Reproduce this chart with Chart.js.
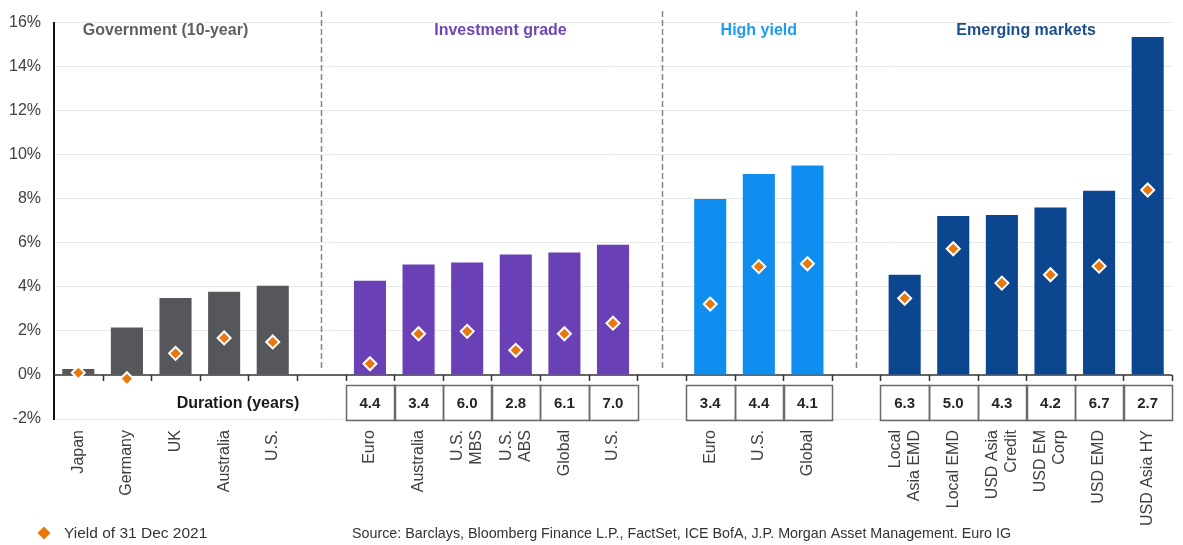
<!DOCTYPE html>
<html>
<head>
<meta charset="utf-8">
<script src="https://cdn.jsdelivr.net/npm/chart.js@4.4.1/dist/chart.umd.min.js"></script>
<style>
  html, body { margin: 0; padding: 0; background: #fff; }
</style>
</head>
<body>
<canvas id="myChart" width="1183" height="545"></canvas>
<script>
const FONT = "'Liberation Sans', Arial, sans-serif";

// sectors, left to right
const groupNames = ['Government (10-year)', 'Investment grade', 'High yield', 'Emerging markets'];

const govLabels = ['Japan', 'Germany', 'UK', 'Australia', 'U.S.'];
const igLabels = ['Euro', 'Australia', ['U.S.', 'MBS'], ['U.S.', 'ABS'], 'Global', 'U.S.'];
const hyLabels = ['Euro', 'U.S.', 'Global'];
const emLabels = [['Local', 'Asia EMD'], 'Local EMD', ['USD Asia', 'Credit'], ['USD EM', 'Corp'], 'USD EMD', 'USD Asia HY'];

// current yield (bars), %
const govYield = [0.27, 2.15, 3.5, 3.78, 4.05];
const igYield = [4.28, 5.02, 5.11, 5.47, 5.56, 5.91];
const hyYield = [7.99, 9.12, 9.51];
const emYield = [4.55, 7.22, 7.26, 7.6, 8.37, 15.35];

// yield of 31 Dec 2021 (diamonds), %
const govYield2021 = [0.1, -0.17, 0.98, 1.68, 1.5];
const igYield2021 = [0.51, 1.87, 1.98, 1.12, 1.87, 2.35];
const hyYield2021 = [3.22, 4.92, 5.05];
const emYield2021 = [3.48, 5.73, 4.17, 4.55, 4.94, 8.4];

// duration (years)
const igDuration = ['4.4', '3.4', '6.0', '2.8', '6.1', '7.0'];
const hyDuration = ['3.4', '4.4', '4.1'];
const emDuration = ['6.3', '5.0', '4.3', '4.2', '6.7', '2.7'];

const yMin = -2, yMax = 16, yStep = 2;

const barColors = ['#55575a', '#6a40b6', '#108ef0', '#0b468f'];
const titleColors = ['#5f5f5f', '#6e46b4', '#1f9bf0', '#1d4f8e'];
const titleShift = [-10, 9, 0, 0];

const groups = [
  { labels: govLabels, now: govYield, prev: govYield2021, dur: null },
  { labels: igLabels, now: igYield, prev: igYield2021, dur: igDuration },
  { labels: hyLabels, now: hyYield, prev: hyYield2021, dur: hyDuration },
  { labels: emLabels, now: emYield, prev: emYield2021, dur: emDuration }
];

// flatten into one category axis, with an empty slot between sectors
let labels = [], bars = [], dots = [], colors = [], durations = [];
let gapSlots = [], groupSlots = [];
groups.forEach((g, gi) => {
  if (gi > 0) {
    gapSlots.push(labels.length);
    labels.push(''); bars.push(null); dots.push(null);
    colors.push('rgba(0,0,0,0)'); durations.push(null);
  }
  const first = labels.length;
  g.labels.forEach((l, i) => {
    labels.push(l);
    bars.push(g.now[i]);
    dots.push(g.prev[i]);
    colors.push(barColors[gi]);
    durations.push(g.dur ? g.dur[i] : null);
  });
  groupSlots.push([first, labels.length - 1]);
});

const decorations = {
  id: 'decorations',
  beforeDatasetsDraw(chart) {
    const { ctx, chartArea } = chart;
    const x = chart.scales.x, y = chart.scales.y;
    const zeroY = y.getPixelForValue(0);
    const slot = x.getPixelForValue(1) - x.getPixelForValue(0);
    ctx.save();
    ctx.strokeStyle = '#333';
    ctx.lineWidth = 1.5;
    ctx.beginPath();
    ctx.moveTo(chartArea.left, zeroY);
    ctx.lineTo(chartArea.right, zeroY);
    for (let i = 1; i <= labels.length; i++) {
      const bx = Math.round(x.getPixelForValue(i) - slot / 2) + 0.5;
      ctx.moveTo(bx, zeroY);
      ctx.lineTo(bx, zeroY + 6);
    }
    ctx.stroke();
    ctx.restore();
  },
  afterDraw(chart) {
    const { ctx, chartArea } = chart;
    const x = chart.scales.x, y = chart.scales.y;
    const zeroY = y.getPixelForValue(0);
    const slot = x.getPixelForValue(1) - x.getPixelForValue(0);
    ctx.save();

    // dashed separators between sectors
    ctx.strokeStyle = '#858585';
    ctx.lineWidth = 1.5;
    ctx.setLineDash([6, 3]);
    gapSlots.forEach(i => {
      const sx = Math.round(x.getPixelForValue(i)) + 0.5;
      ctx.beginPath();
      ctx.moveTo(sx, 11);
      ctx.lineTo(sx, zeroY - 4);
      ctx.stroke();
    });
    ctx.setLineDash([]);

    // sector titles
    ctx.font = 'bold 16px ' + FONT;
    ctx.textAlign = 'center';
    ctx.textBaseline = 'middle';
    groupSlots.forEach(([a, b], gi) => {
      const cx = (x.getPixelForValue(a) + x.getPixelForValue(b)) / 2 + titleShift[gi];
      ctx.fillStyle = titleColors[gi];
      ctx.fillText(groupNames[gi], cx, 31);
    });

    // duration boxes
    const boxTop = 385, boxH = 35;
    ctx.strokeStyle = '#6a6a6a';
    ctx.lineWidth = 1.5;
    ctx.fillStyle = '#262626';
    ctx.font = 'bold 15px ' + FONT;
    durations.forEach((d, i) => {
      if (d === null) return;
      const cx = x.getPixelForValue(i);
      ctx.strokeRect(Math.round(cx - slot / 2) + 0.5, boxTop + 0.5, Math.round(slot), boxH);
      ctx.fillText(d, cx, boxTop + boxH / 2 + 1);
    });
    ctx.font = 'bold 16px ' + FONT;
    ctx.fillStyle = '#1a1a1a';
    ctx.fillText('Duration (years)', 238, boxTop + boxH / 2 + 1);

    // category labels, rotated
    ctx.font = '16px ' + FONT;
    ctx.fillStyle = '#404040';
    ctx.textAlign = 'right';
    const lh = 19;
    labels.forEach((lab, i) => {
      const lines = Array.isArray(lab) ? lab : [lab];
      ctx.save();
      ctx.translate(x.getPixelForValue(i), chartArea.bottom + 11);
      ctx.rotate(-Math.PI / 2);
      lines.forEach((t, k) => ctx.fillText(t, 0, (k - (lines.length - 1) / 2) * lh));
      ctx.restore();
    });

    // legend
    const ds = chart.data.datasets[0];
    const lx = 44, ly = 533, r = 6.5;
    ctx.fillStyle = ds.pointBackgroundColor;
    ctx.beginPath();
    ctx.moveTo(lx, ly - r);
    ctx.lineTo(lx + r, ly);
    ctx.lineTo(lx, ly + r);
    ctx.lineTo(lx - r, ly);
    ctx.closePath();
    ctx.fill();
    ctx.fillStyle = '#333';
    ctx.textAlign = 'left';
    ctx.font = '15.5px ' + FONT;
    ctx.fillText(ds.label, 64, ly + 1);

    ctx.font = '14.3px ' + FONT;
    ctx.fillText('Source: Barclays, Bloomberg Finance L.P., FactSet, ICE BofA, J.P. Morgan Asset Management. Euro IG', 352, ly + 1);
    ctx.restore();
  }
};

const ctx = document.getElementById('myChart');

new Chart(ctx, {
  type: 'bar',
  data: {
    labels: labels,
    datasets: [{
      type: 'line',
      label: 'Yield of 31 Dec 2021',
      data: dots,
      showLine: false,
      pointStyle: 'rectRot',
      pointRadius: 6.5,
      pointHoverRadius: 6.5,
      pointBackgroundColor: '#e8770e',
      pointBorderColor: '#ffffff',
      pointBorderWidth: 2,
      order: 0
    }, {
      type: 'bar',
      label: 'Yield',
      data: bars,
      backgroundColor: colors,
      barPercentage: 0.66,
      categoryPercentage: 1,
      order: 1
    }]
  },
  options: {
    responsive: false,
    animation: false,
    devicePixelRatio: 1,
    layout: { padding: { top: 19, right: 11, bottom: 0, left: 0 } },
    plugins: {
      legend: { display: false },
      tooltip: { enabled: false }
    },
    scales: {
      x: {
        offset: true,
        grid: { display: false, drawTicks: false },
        border: { display: false },
        ticks: { display: false },
        afterFit: s => { s.height = 126; }
      },
      y: {
        min: yMin,
        max: yMax,
        ticks: {
          stepSize: yStep,
          callback: v => v + '%',
          padding: 13,
          color: '#404040',
          font: { family: FONT, size: 16 }
        },
        grid: {
          drawTicks: false,
          color: c => c.tick && c.tick.value === 0 ? 'rgba(0,0,0,0)' : '#e9e9e9'
        },
        border: { color: '#111', width: 2 },
        afterFit: s => { s.width = 54; }
      }
    }
  },
  plugins: [decorations]
});
</script>
</body>
</html>
